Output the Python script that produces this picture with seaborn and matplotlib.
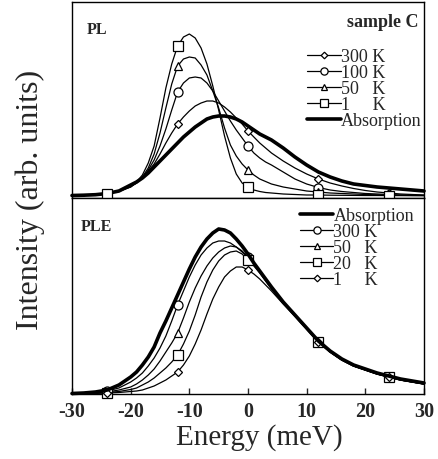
import numpy as np
import pandas as pd
import matplotlib
matplotlib.use("Agg")
import matplotlib.pyplot as plt
from matplotlib.lines import Line2D
import seaborn as sns

# Energy grid (meV)
energy = [-30, -28, -26, -24, -22, -20, -19, -18, -17, -16, -15, -14, -13, -12, -11,
          -10, -9, -8, -7, -6, -5, -4, -3, -2, -1, 0, 1, 2, 3, 4,
          6, 8, 10, 12, 14, 16, 18, 20, 22, 24, 26, 28, 30]
marker_energy = [-24, -12, 0, 12, 24]

# PL panel (arb. units)
pl_absorption = [0.5, 0.8, 1.3, 2.5, 5, 11, 14, 18, 23, 29, 35, 41, 47, 53, 59,
                 64, 69, 73, 77, 79, 80, 80, 79, 77, 74, 70, 66, 62, 59, 56,
                 48, 39, 31, 24, 19, 15, 12, 10.5, 9, 8, 7, 6, 5]
pl_300k = [0.3, 0.6, 1.2, 2.5, 5, 10, 14, 19, 25, 32, 42, 53, 63, 72, 79,
           85, 90, 93, 95, 95, 93, 89, 84, 78, 72, 65, 59, 53, 48, 43,
           35, 28, 22, 17, 13, 10, 7.5, 5.5, 4, 3, 2, 1.5, 1]
pl_100k = [0.3, 0.6, 1.2, 2.5, 5, 10, 13, 18, 26, 36, 50, 67, 86, 104, 113,
           118, 119, 118, 113, 105, 95, 85, 75, 66, 58, 50, 43, 38, 34, 31,
           24, 17, 12, 8.5, 6, 4.5, 3.5, 2.5, 2, 1.5, 1, 0.8, 0.6]
pl_50k = [0.3, 0.6, 1.2, 2.5, 5, 9, 13, 19, 28, 42, 63, 88, 112, 130, 137,
          139, 138, 131, 121, 105, 88, 68, 51, 40, 32, 26, 21, 17, 14.5, 12,
          9, 7, 5, 4, 3, 2.5, 2, 1.5, 1.2, 1, 0.8, 0.6, 0.5]
pl_1k = [0.3, 0.6, 1.2, 2.5, 4.5, 9, 14, 21, 33, 50, 78, 108, 132, 150, 159,
         162, 158, 148, 132, 110, 86, 60, 38, 22, 13, 9, 6, 4.5, 3.5, 3,
         2, 1.5, 1, 1, 0.8, 0.7, 0.6, 0.5, 0.5, 0.4, 0.4, 0.3, 0.3]

# PLE panel (arb. units)
ple_absorption = [0.5, 1, 2, 4, 9, 17, 22, 29, 37, 47, 61, 73, 86, 99, 112,
                  125, 137, 147, 155, 161, 165, 164, 161, 155, 148, 140, 131, 123, 115, 107,
                  92, 79, 66, 53, 43, 35, 29, 25, 21, 18, 15, 13, 11]
ple_300k = [0.4, 0.8, 1.5, 3, 6, 12, 16, 21, 28, 36, 46, 58, 73, 89, 103,
            117, 129, 139, 146, 151, 153, 153, 151, 147, 142, 137, 130, 122, 114, 106,
            91, 78, 65, 52, 42, 34, 28, 24, 20, 17, 14, 12, 10]
ple_50k = [0.3, 0.6, 1.2, 2, 4, 7, 10, 14, 19, 25, 33, 42, 51, 61, 76,
           92, 106, 118, 128, 136, 142, 146, 148, 147, 143, 137, 130, 122, 114, 106,
           91, 78, 65, 52, 42, 34, 28, 24, 20, 17, 14, 12, 10]
ple_20k = [0.2, 0.4, 0.8, 1.5, 2.5, 4.5, 6, 9, 12, 16, 21, 26, 32, 39, 50,
           63, 79, 97, 112, 124, 133, 139, 142, 143, 140, 134, 128, 121, 113, 105,
           91, 78, 65, 52, 42, 34, 28, 24, 20, 17, 14, 12, 10]
ple_1k = [0.1, 0.3, 0.6, 1, 1.5, 2.5, 3, 4, 6, 8, 11, 14, 18, 22, 29,
          38, 50, 64, 80, 95, 107, 117, 123, 127, 127, 124, 120, 115, 109, 103,
          90, 78, 65, 52, 42, 34, 28, 24, 20, 17, 14, 12, 10]

sns.set_style("white")
plt.rcParams['font.family'] = ['Liberation Serif', 'DejaVu Serif']
plt.rcParams['mathtext.fontset'] = 'stix'

fig = plt.figure(figsize=(4.39, 4.60), dpi=100)
W, H = 439, 460
x0, x1 = 72, 424
ax_top = fig.add_axes([x0 / W, (H - 199) / H, (x1 - x0) / W, 196 / H])
ax_bot = fig.add_axes([x0 / W, (H - 395) / H, (x1 - x0) / W, 196 / H])

mk_idx = [energy.index(e) for e in marker_energy]

styles = {
    'abs': dict(marker=None, lw=2.6),
    '300': dict(marker='D', ms=4.2),
    '100': dict(marker='o', ms=6.5),
    '50': dict(marker='^', ms=5.5),
    '20': dict(marker='s', ms=6.5),
    '1': dict(marker='s', ms=6.5),
}


def draw(ax, y, marker=None, ms=6, lw=0.9, zorder=3):
    kws = dict(x=energy, y=y, ax=ax, color='black', lw=lw, clip_on=False, zorder=zorder)
    if marker:
        kws.update(marker=marker, markersize=ms, markerfacecolor='white',
                   markeredgecolor='black', markeredgewidth=0.9, markevery=mk_idx)
    sns.lineplot(**kws)


def handle(marker=None, ms=6, lw=0.9):
    if marker is None:
        return Line2D([], [], color='black', lw=lw)
    return Line2D([], [], color='black', lw=0.9, marker=marker, markersize=ms * 0.8,
                  markerfacecolor='white', markeredgecolor='black', markeredgewidth=0.9)


# ---- PL panel ----
draw(ax_top, pl_absorption, lw=2.6, zorder=2)
draw(ax_top, pl_300k, marker='D', ms=4.2)
draw(ax_top, pl_100k, marker='o', ms=6.5)
draw(ax_top, pl_50k, marker='^', ms=5.5)
draw(ax_top, pl_1k, marker='s', ms=6.5)

top_handles = [handle('D', 4.2), handle('o', 6.5), handle('^', 5.5), handle('s', 6.5),
               handle(None, lw=2.6)]
top_labels = ['300 K', '100 K', '50   K', '1     K', 'Absorption']
ax_top.legend(top_handles, top_labels, loc='upper left', bbox_to_anchor=(0.668, 0.765),
              frameon=False, fontsize=13, handlelength=1.85, handletextpad=0.0,
              labelspacing=-0.05, borderpad=0, borderaxespad=0)
ax_top.text(0.043, 0.86, 'PL', transform=ax_top.transAxes, fontsize=11.5,
            fontweight='bold', va='center', ha='left')
ax_top.text(0.985, 0.9, 'sample C', transform=ax_top.transAxes, fontsize=13,
            fontweight='bold', va='center', ha='right')

ax_top.set_xlim(-30, 30)
ax_top.set_ylim(-2, 194)
ax_top.set_xticks([])
ax_top.set_yticks([])

# ---- PLE panel ----
draw(ax_bot, ple_absorption, lw=2.6, zorder=4)
draw(ax_bot, ple_300k, marker='o', ms=6.5)
draw(ax_bot, ple_50k, marker='^', ms=5.5)
draw(ax_bot, ple_20k, marker='s', ms=6.5)
draw(ax_bot, ple_1k, marker='D', ms=4.2)

bot_handles = [handle(None, lw=2.6), handle('o', 6.5), handle('^', 5.5), handle('s', 6.5),
               handle('D', 4.2)]
bot_labels = ['Absorption', '300 K', '50   K', '20   K', '1     K']
ax_bot.legend(bot_handles, bot_labels, loc='upper left', bbox_to_anchor=(0.648, 0.955),
              frameon=False, fontsize=13, handlelength=1.85, handletextpad=0.0,
              labelspacing=-0.05, borderpad=0, borderaxespad=0)
ax_bot.text(0.026, 0.855, 'PLE', transform=ax_bot.transAxes, fontsize=11.5,
            fontweight='bold', va='center', ha='left')

ax_bot.set_xlim(-30, 30)
ax_bot.set_ylim(0, 196)
ax_bot.set_yticks([])
ax_bot.set_xticks([-30, -20, -10, 0, 10, 20, 30])
ax_bot.set_xticklabels(['-30', '-20', '-10', '0', '10', '20', '30'])
ax_bot.tick_params(axis='x', direction='in', length=4, width=1, pad=5,
                   labelsize=14.5, bottom=True)
for lab in ax_bot.get_xticklabels():
    lab.set_fontweight('bold')

for ax in (ax_top, ax_bot):
    for sp in ax.spines.values():
        sp.set_color('black')
        sp.set_linewidth(1.0)
    if ax.get_legend() is None:
        pass

fig.text(259 / W, 1 - 438 / H, 'Energy (meV)', fontsize=21, ha='center', va='center')
fig.text(30 / W, 1 - 200 / H, 'Intensity (arb. units)', fontsize=23, rotation=90,
         ha='center', va='center')

fig.savefig('out.png', dpi=100)
